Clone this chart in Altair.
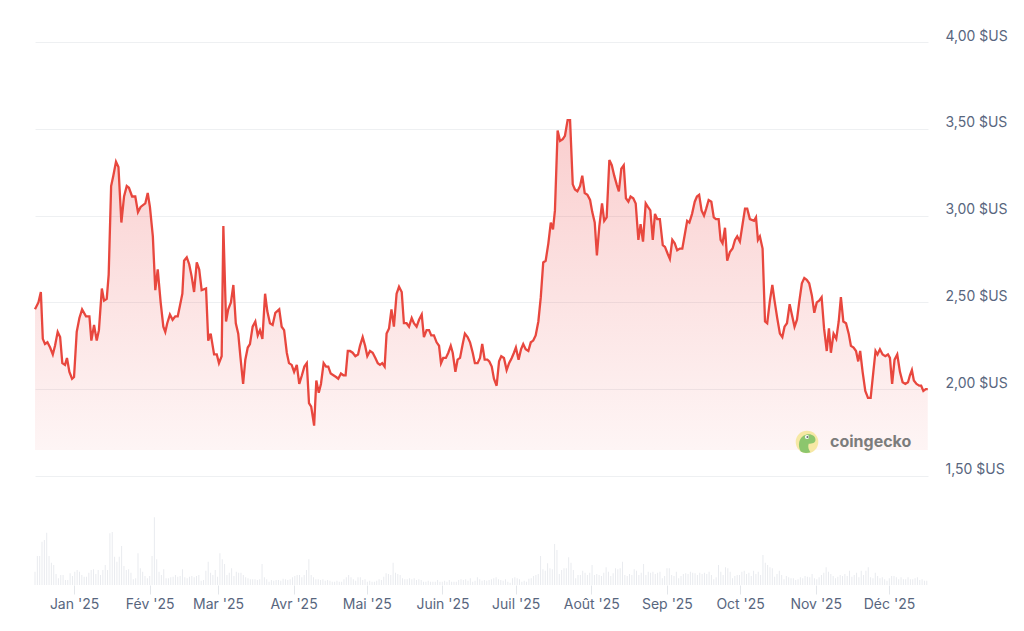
import altair as alt
import numpy as np
import pandas as pd

# Days since 2025-01-01 and price in $US
day_offset = [
    -16.0, -14.6, -13.6, -12.8, -11.9, -10.9, -9.8, -8.7, -7.8, -6.7, -5.7, -4.8, -3.7, -2.9, -1.9, -0.8,
    0.0, 1.1, 2.2, 3.3, 4.9, 6.3, 7.1, 8.2, 9.3, 10.2, 11.4, 12.3, 13.4, 14.2, 15.2, 16.1, 17.2, 18.2,
    19.4, 20.5, 21.6, 22.5, 23.8, 25.1, 26.2, 27.3, 29.2, 30.2, 31.1, 32.3, 33.3, 34.3, 35.5, 36.6,
    37.4, 38.2, 39.3, 40.4, 41.5, 42.5, 43.4, 44.4, 45.1, 46.2, 47.2, 48.2, 49.2, 50.3, 51.3, 52.3,
    54.1, 55.0, 56.0, 57.4, 58.5, 59.4, 60.5, 61.2, 62.3, 63.2, 64.3, 65.3, 66.3, 67.3, 68.3, 69.3,
    70.2, 71.2, 72.1, 73.2, 74.3, 75.3, 76.2, 77.2, 78.3, 79.2, 80.3, 81.4, 82.5, 84.1, 85.1, 86.1,
    87.2, 88.1, 89.2, 90.2, 91.3, 92.3, 93.4, 94.4, 95.4, 96.3, 97.2, 98.4, 99.3, 100.3, 101.2, 102.3,
    103.3, 104.2, 105.2, 106.3, 107.4, 108.3, 109.4, 110.4, 111.3, 112.2, 113.1, 114.2, 115.3, 116.4,
    117.2, 118.3, 119.3, 120.2, 121.3, 122.4, 123.5, 124.5, 125.4, 126.3, 127.3, 128.1, 129.1, 130.1,
    131.1, 132.2, 133.2, 134.3, 135.2, 136.3, 137.3, 138.4, 139.3, 140.4, 141.4, 142.5, 143.4, 144.5,
    145.5, 146.4, 147.5, 148.6, 149.6, 150.4, 151.3, 152.4, 153.4, 154.4, 155.2, 156.3, 157.2, 158.2,
    159.3, 160.2, 161.3, 162.3, 163.4, 164.3, 165.4, 166.4, 167.3, 168.3, 169.4, 170.2, 171.2, 172.1,
    173.2, 174.2, 175.1, 176.2, 177.3, 178.3, 179.4, 180.3, 181.1, 182.2, 183.2, 184.1, 185.1, 186.2,
    187.2, 188.2, 189.2, 190.3, 191.3, 192.3, 193.3, 194.4, 195.4, 196.3, 197.1, 198.2, 199.2, 200.3,
    201.2, 202.3, 203.3, 204.4, 205.3, 206.3, 207.4, 208.3, 209.3, 210.4, 211.5, 212.4, 213.4, 214.3,
    215.3, 216.4, 217.3, 218.3, 219.4, 220.4, 221.4, 222.4, 223.3, 224.3, 225.3, 226.2, 227.2, 228.1,
    229.2, 230.2, 231.3, 232.2, 233.2, 234.3, 235.2, 236.2, 237.2, 238.1, 239.0, 240.1, 241.3, 242.2,
    243.3, 244.2, 245.2, 246.2, 247.2, 248.3, 249.3, 250.3, 251.3, 252.2, 253.3, 254.4, 255.3, 256.2,
    257.2, 258.2, 259.1, 260.1, 261.2, 262.2, 263.1, 264.2, 265.0, 265.8, 266.8, 267.7, 268.8, 269.9,
    270.9, 271.8, 272.9, 274.0, 275.0, 275.9, 277.0, 278.7, 279.5, 280.3, 281.1, 282.2, 283.2, 284.1,
    285.2, 286.2, 287.1, 288.2, 289.3, 290.3, 291.2, 292.2, 293.3, 294.2, 295.3, 296.3, 297.2, 298.3,
    299.3, 300.3, 301.3, 302.4, 303.4, 304.4, 305.4, 306.4, 307.4, 308.5, 309.4, 310.2, 311.3, 312.4,
    313.4, 314.3, 315.3, 316.4, 317.5, 318.4, 319.5, 320.5, 321.4, 322.2, 323.2, 324.3, 325.4, 326.5,
    327.6, 328.5, 329.3, 330.3, 331.4, 332.5, 333.6, 334.4, 335.3, 336.3, 337.4, 338.5, 339.6, 340.7,
    341.8, 342.6, 343.4, 344.2, 345.3, 346.4, 347.2, 348.1, 349.1, 349.9,
]
price = [
    2.46, 2.50, 2.56, 2.29, 2.26, 2.27, 2.24, 2.20, 2.25, 2.33, 2.30, 2.15, 2.14, 2.18, 2.10, 2.06,
    2.07, 2.33, 2.41, 2.46, 2.42, 2.42, 2.28, 2.37, 2.28, 2.34, 2.58, 2.51, 2.52, 2.66, 3.17, 3.23, 3.31, 3.28,
    2.96, 3.11, 3.17, 3.16, 3.11, 3.11, 3.02, 3.05, 3.07, 3.13, 3.05, 2.88, 2.57, 2.69, 2.50, 2.36,
    2.33, 2.38, 2.43, 2.40, 2.42, 2.42, 2.48, 2.55, 2.74, 2.76, 2.72, 2.65, 2.56, 2.73, 2.69, 2.57,
    2.58, 2.28, 2.32, 2.20, 2.20, 2.15, 2.19, 2.94, 2.39, 2.46, 2.50, 2.60, 2.38, 2.32, 2.17, 2.03,
    2.17, 2.24, 2.26, 2.36, 2.39, 2.31, 2.34, 2.29, 2.55, 2.45, 2.38, 2.37, 2.44, 2.46, 2.36, 2.34,
    2.21, 2.15, 2.14, 2.10, 2.14, 2.03, 2.08, 2.13, 2.15, 1.92, 1.90, 1.79, 2.05, 1.98, 2.03, 2.15,
    2.13, 2.13, 2.09, 2.08, 2.07, 2.06, 2.09, 2.08, 2.08, 2.22, 2.22, 2.21, 2.19, 2.20,
    2.25, 2.30, 2.25, 2.19, 2.22, 2.21, 2.18, 2.15, 2.14, 2.15, 2.13, 2.32, 2.35, 2.46,
    2.36, 2.55, 2.59, 2.56, 2.38, 2.38, 2.36, 2.41, 2.38, 2.36, 2.40, 2.43, 2.30, 2.34,
    2.34, 2.31, 2.31, 2.27, 2.25, 2.15, 2.18, 2.18, 2.21, 2.25, 2.21, 2.10, 2.17, 2.18,
    2.26, 2.32, 2.30, 2.27, 2.21, 2.15, 2.15, 2.18, 2.26, 2.17, 2.17, 2.16, 2.13, 2.06,
    2.02, 2.16, 2.19, 2.18, 2.11, 2.15, 2.18, 2.21, 2.24, 2.17, 2.23, 2.26, 2.23, 2.22,
    2.27, 2.28, 2.31, 2.39, 2.53, 2.73, 2.74, 2.84, 2.96, 2.92, 3.03, 3.49, 3.43, 3.44,
    3.46, 3.55, 3.55, 3.18, 3.15, 3.14, 3.17, 3.23, 3.13, 3.12, 3.09, 3.02, 2.96, 2.77,
    2.94, 3.07, 2.97, 2.99, 3.32, 3.29, 3.23, 3.18, 3.14, 3.27, 3.29, 3.10, 3.08, 3.11,
    3.10, 3.07, 2.86, 2.95, 2.85, 3.07, 3.05, 3.03, 2.86, 3.01, 2.98, 2.98, 2.83, 2.82,
    2.78, 2.75, 2.86, 2.84, 2.80, 2.81, 2.81, 2.89, 2.97, 2.96, 3.01, 3.08, 3.11, 3.12,
    3.03, 3.00, 3.04, 3.09, 3.08, 2.99, 2.98, 2.98, 2.86, 2.84, 2.93, 2.74, 2.79, 2.81,
    2.86, 2.88, 2.85, 2.95, 3.04, 3.04, 2.98, 2.97, 2.99, 2.86, 2.88, 2.81, 2.39, 2.38,
    2.51, 2.60, 2.51, 2.41, 2.32, 2.30, 2.36, 2.38, 2.49, 2.43, 2.36, 2.40, 2.50, 2.61,
    2.64, 2.63, 2.61, 2.54, 2.44, 2.50, 2.51, 2.53, 2.35, 2.22, 2.35, 2.21, 2.32, 2.29,
    2.39, 2.53, 2.39, 2.38, 2.32, 2.25, 2.24, 2.22, 2.16, 2.22, 2.10, 1.99, 1.95, 1.95,
    2.10, 2.22, 2.20, 2.23, 2.20, 2.19, 2.20, 2.18, 2.03, 2.17, 2.20, 2.10, 2.04, 2.03,
    2.04, 2.08, 2.11, 2.05, 2.03, 2.02, 2.02, 1.99, 2.00, 2.00,
]

# Daily trading volume (relative units), Dec 16 2024 -> Dec 16 2025
volume = [
    40, 87, 87, 130, 135, 157, 87, 67, 60, 33, 20, 30, 30, 15, 15, 35, 27, 40, 45, 40, 30, 25, 25, 37, 45,
    47, 33, 45, 30, 45, 60, 45, 155, 159, 85, 70, 85, 117, 57, 45, 47, 37, 17, 20, 95, 50, 40, 27, 20, 27,
    87, 203, 77, 40, 30, 47, 20, 20, 23, 25, 30, 25, 27, 47, 23, 20, 25, 27, 23, 27, 30, 13, 15, 43, 70,
    37, 30, 45, 25, 95, 77, 63, 30, 37, 50, 27, 40, 37, 37, 30, 23, 20, 17, 17, 17, 15, 17, 63, 23, 17,
    10, 15, 13, 15, 15, 13, 19, 17, 15, 17, 23, 27, 30, 30, 23, 30, 45, 77, 30, 23, 17, 17, 15, 17, 13,
    15, 13, 10, 10, 13, 10, 10, 17, 23, 30, 23, 17, 13, 23, 23, 15, 17, 10, 13, 10, 10, 13, 17, 15, 25,
    35, 33, 30, 67, 37, 33, 30, 20, 17, 17, 20, 17, 20, 15, 17, 15, 10, 10, 13, 10, 10, 10, 15, 10, 10,
    13, 10, 15, 10, 10, 10, 15, 17, 15, 17, 13, 20, 10, 13,
    23, 17, 13, 15, 13, 15, 17, 20, 23, 17, 15, 13, 17, 10, 7, 20, 23, 20, 17, 10, 13, 10, 19, 20, 27,
    30, 33, 87, 47, 43, 65, 50, 47, 123, 105, 33, 45, 50, 50, 83, 67, 45, 20, 30, 30, 43, 37, 30, 37, 60,
    30, 33, 30, 27, 37, 53, 40, 27, 35, 50, 47, 50, 70, 30, 27, 33, 30, 47, 43, 30, 37, 63, 30, 40, 37,
    40, 33, 37, 40, 20, 27, 50, 50, 30, 27, 40, 20, 27, 33, 35, 33, 40, 37, 35, 30, 37, 33, 37, 33, 40,
    30, 17, 23, 60, 40, 30, 53, 50, 40, 20, 27, 30, 30, 40, 43, 33, 37, 27, 43, 33, 40, 30, 90, 67, 60,
    53, 50, 25, 33, 43, 30, 17, 27, 23, 20, 20, 15, 17, 23, 20, 27, 25, 23, 33, 20, 17, 23, 30, 37, 53,
    40, 33, 27, 20, 25, 30, 27, 33, 27, 43, 25, 30, 37, 23, 43, 30, 43, 53, 23, 20, 37, 27, 20, 23, 17,
    13, 20, 27, 27, 23, 17, 23, 17, 17, 23, 17, 17, 20, 23, 15, 17, 13, 13,
]

month_labels = ["Jan", "Fév", "Mar", "Avr", "Mai", "Juin", "Juil", "Août", "Sep", "Oct", "Nov", "Déc"]
price_ticks = [1.5, 2.0, 2.5, 3.0, 3.5, 4.0]

base = pd.Timestamp("2025-01-01")
price_df = pd.DataFrame({
    "date": base + pd.to_timedelta(day_offset, unit="D"),
    "price": price,
})
price_df["floor"] = 1.65
vol_days = np.linspace(-16, 349.5, len(volume))
vol_df = pd.DataFrame({
    "date": base + pd.to_timedelta(vol_days, unit="D"),
    "volume": volume,
})

FONT = "Inter"
LABEL_COLOR = "#58667e"
LINE_COLOR = "#e8473e"

xscale = alt.Scale(
    domain=[alt.DateTime(year=2024, month=12, date=16), alt.DateTime(year=2025, month=12, date=17)],
    nice=False, padding=0,
)
month_expr = "[" + ",".join("'" + m + "'" for m in month_labels) + "][month(datum.value)] + \" '25\""
xaxis = alt.Axis(
    values=[alt.DateTime(year=2025, month=m, date=1) for m in range(1, 13)],
    labelExpr=month_expr,
    grid=False, domain=False,
    tickColor="#e3e6ea", tickSize=9, labelPadding=3,
    labelFont=FONT, labelFontSize=14, labelColor=LABEL_COLOR,
    labelFlush=False, labelOverlap=False, title=None,
)
x_enc = alt.X("date:T", scale=xscale, axis=xaxis)

yscale = alt.Scale(domain=[0.872, 4.0], nice=False, zero=False)
yaxis = alt.Axis(
    orient="right", values=price_ticks,
    labelExpr="replace(format(datum.value, '.2f'), '.', ',') + ' $US'",
    grid=True, gridColor="#eef0f2", gridWidth=1,
    domain=False, ticks=False, labelPadding=17,
    labelFont=FONT, labelFontSize=14, labelColor=LABEL_COLOR,
    labelBaseline="alphabetic", labelOffset=-2, title=None,
)

volume_layer = alt.Chart(vol_df).mark_bar(size=1, color="#e9ebef").encode(
    x=x_enc,
    y=alt.Y("volume:Q", scale=alt.Scale(domain=[0, 1629]), axis=None),
)

gradient = alt.Gradient(
    gradient="linear",
    stops=[
        alt.GradientStop(color="rgba(234,60,60,0.05)", offset=0),
        alt.GradientStop(color="rgba(234,60,60,0.25)", offset=1),
    ],
    x1=1, x2=1, y1=1, y2=0,
)
area_layer = alt.Chart(price_df).mark_area(color=gradient).encode(
    x=x_enc,
    y=alt.Y("price:Q", scale=yscale, axis=yaxis),
    y2="floor:Q",
)
line_layer = alt.Chart(price_df).mark_line(color=LINE_COLOR, strokeWidth=2.3).encode(
    x=x_enc,
    y=alt.Y("price:Q", scale=yscale, axis=yaxis),
)
price_layer = alt.layer(area_layer, line_layer)

# CoinGecko watermark (logo + word mark)
one = price_df.head(1)
logo_bg = alt.Chart(one).mark_circle(color="#f6e8a4", opacity=1, size=510).encode(
    x=alt.value(772), y=alt.value(400)
)
gecko_path = ("M -0.55 0.85 C -0.85 0.3 -0.75 -0.45 -0.1 -0.65 C 0.35 -0.78 0.75 -0.55 0.75 -0.2 "
              "C 0.75 0.1 0.45 0.15 0.15 0.15 C 0.05 0.4 0.15 0.7 0.3 0.9 C 0.0 1.0 -0.35 0.98 -0.55 0.85 Z")
logo_head = alt.Chart(one).mark_point(
    shape=gecko_path, filled=True, color="#8cc66d", opacity=1, size=510
).encode(x=alt.value(772), y=alt.value(400))
logo_eye = alt.Chart(one).mark_circle(color="#ffffff", opacity=1, size=18).encode(
    x=alt.value(772), y=alt.value(395)
)
logo_pupil = alt.Chart(one).mark_circle(color="#6b6b6b", opacity=1, size=5).encode(
    x=alt.value(772.5), y=alt.value(395)
)
logo_text = alt.Chart(one).mark_text(
    text="coingecko", font=FONT, fontSize=16, fontWeight="bold", color="#7c7c7c",
    align="left", baseline="middle",
).encode(x=alt.value(795), y=alt.value(400))

chart = alt.layer(
    volume_layer, price_layer, logo_bg, logo_head, logo_eye, logo_pupil, logo_text
).resolve_scale(y="independent").properties(
    width=893, height=543,
    autosize=alt.AutoSizeParams(type="none"),
    padding={"left": 35, "top": 42, "right": 96, "bottom": 46},
    background="white",
).configure_view(stroke=None)

chart.save("out.html", embed_options={"renderer": "svg", "actions": False})
